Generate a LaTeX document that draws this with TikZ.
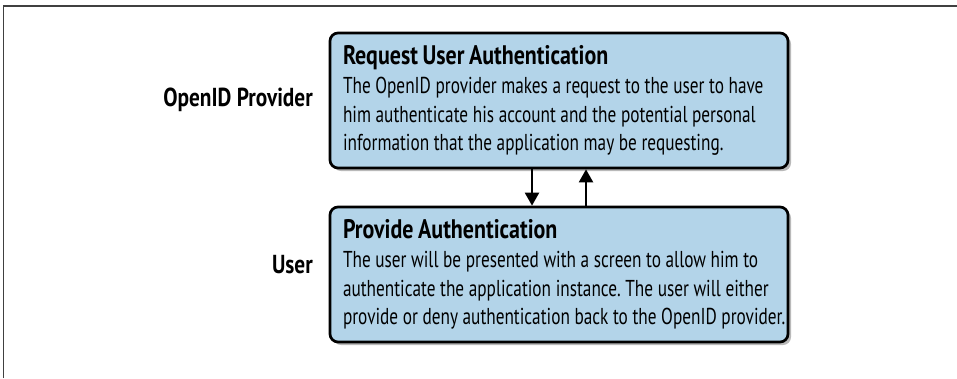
\documentclass[tikz,border=0pt]{standalone}
\usepackage{fontspec}
\setmainfont{PT Sans}[FakeStretch=0.75]
\newfontfamily\headfont{PT Sans}[FakeStretch=0.82]
\usetikzlibrary{arrows.meta,positioning,shadows}
\definecolor{boxblue}{RGB}{179,212,233}
\newcommand\bodyspace{\spaceskip=4.6pt plus 1pt minus 1pt\relax}

\begin{document}
\frenchspacing
\begin{tikzpicture}[
  x=1pt, y=1pt,
  font=\fontsize{23}{28.5}\selectfont,
  stepbox/.style={
    draw=black,
    line width=2.7pt,
    rounded corners=8pt,
    fill=boxblue,
    align=left,
    text width=432pt,
    minimum width=458pt,
    minimum height=135pt,
    inner xsep=13pt,
    execute at begin node=\bodyspace,
    drop shadow={shadow xshift=3pt, shadow yshift=-3pt, fill=black!55, opacity=0.5}
  },
  role/.style={font=\headfont\fontsize{26}{30}\selectfont\bfseries, anchor=east, inner sep=0pt},
  arrow/.style={-{Triangle[length=13pt,width=14pt]}, line width=2.2pt, draw=black}
]
\useasboundingbox (0,0) rectangle (957,-378);

% frame, only its top and left edges show
\coordinate (frameleft) at (3.5,-378);
\coordinate (frametop)  at (957,-6);
\draw[black!75, line width=1.4pt] (frameleft) |- (frametop);

% the two steps
\node[stepbox] (request) at (559,-100.5) {%
  {\headfont\fontsize{26.8}{28}\selectfont\bfseries Request User Authentication}\\[1pt]
  The OpenID provider makes a request to the user to have\\
  him authenticate his account and the potential personal\\
  information that the application may be requesting.};
\node[stepbox] (provide) at (559,-274.5) {%
  {\headfont\fontsize{26.8}{28}\selectfont\bfseries Provide Authentication}\\[1pt]
  The user will be presented with a screen to allow him to\\
  authenticate the application instance. The user will either\\
  \mbox{provide or deny authentication back to the OpenID provider.}};

% roles on the left
\node[role] (provider) at (313,-100) {OpenID Provider};
\node[role] (user)     at (313,-265) {User};

\draw[arrow] ([xshift=-27pt]request.south) -- ([xshift=-27pt]provide.north);
\draw[arrow] ([xshift=27pt]provide.north) -- ([xshift=27pt]request.south);

\end{tikzpicture}
\end{document}
